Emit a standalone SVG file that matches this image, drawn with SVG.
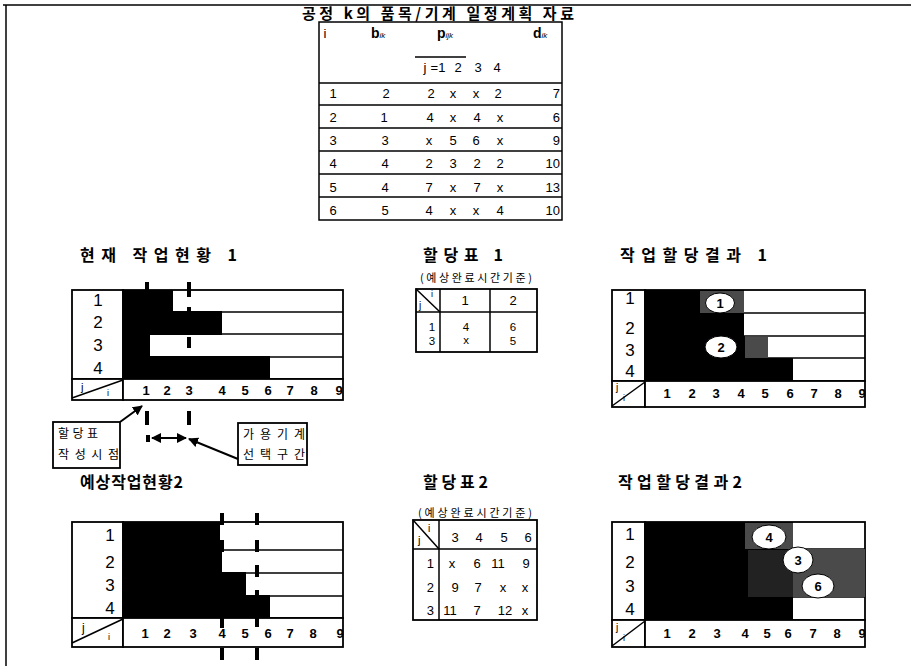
<svg xmlns="http://www.w3.org/2000/svg" width="911" height="666" viewBox="0 0 911 666">
<style>
.l{font-family:"Liberation Sans",Arial,sans-serif;fill:#000}
.k{font-family:"Noto Sans CJK KR","Liberation Sans",sans-serif;fill:#000}
.kb{font-family:"Noto Sans CJK KR","Liberation Sans",sans-serif;font-weight:bold;fill:#000}
.tv{font-size:13px;text-anchor:middle}
.ax{font-size:13px;font-weight:bold;text-anchor:middle}
.rl{font-size:17px;text-anchor:middle}
.ln{stroke:#000;stroke-width:1.5;fill:none}
.bx{stroke:#000;stroke-width:1.8;fill:#fff}
.dash{stroke:#000;stroke-width:4}
.blk{fill:#000}
.gry{fill:#4a4a4a}
.cir{fill:#fff;stroke:#000;stroke-width:1}
.cn{font-size:13px;font-weight:bold;text-anchor:middle}
.arr{stroke:#000;stroke-width:2;fill:none}
</style>
<defs>
<marker id="ah" viewBox="0 0 10 10" refX="9" refY="5" markerWidth="5" markerHeight="5" orient="auto-start-reverse" markerUnits="strokeWidth">
<path d="M0,0 L10,5 L0,10 z" fill="#000"/>
</marker>
</defs>
<rect width="911" height="666" fill="#fff"/>
<!-- frame -->
<g id="frame">
<line x1="3" y1="5" x2="911" y2="5" class="ln" stroke-width="2"/>
<line x1="6" y1="5" x2="6" y2="666" class="ln" stroke-width="2"/>
</g>

<!-- top title and table -->
<g id="title">
<text class="kb" x="302" y="19" font-size="15" textLength="272" lengthAdjust="spacing">공정 k의 품목/기계 일정계획 자료</text>
</g>
<g id="dataTable">
<rect x="319" y="22" width="243" height="198" class="ln"/>
<line x1="319" y1="83" x2="562" y2="83" class="ln" stroke-width="2"/>
<line x1="319" y1="105" x2="562" y2="105" class="ln"/>
<line x1="319" y1="128" x2="562" y2="128" class="ln"/>
<line x1="319" y1="151" x2="562" y2="151" class="ln"/>
<line x1="319" y1="174" x2="562" y2="174" class="ln"/>
<line x1="319" y1="197" x2="562" y2="197" class="ln"/>
<line x1="415" y1="57" x2="466" y2="57" class="ln"/>
<text class="l" x="325" y="38" font-size="13" text-anchor="middle">i</text>
<text class="l" x="371" y="38" font-size="14" font-weight="bold">b<tspan font-size="8" font-style="italic" font-weight="normal">ik</tspan></text>
<text class="l" x="437" y="38" font-size="14" font-weight="bold">p<tspan font-size="8" font-style="italic" font-weight="normal">ijk</tspan></text>
<text class="l" x="533" y="38" font-size="14" font-weight="bold">d<tspan font-size="8" font-style="italic" font-weight="normal">ik</tspan></text>
<g class="l tv">
<text x="425" y="72">j</text><text x="438" y="72">=1</text><text x="458" y="72">2</text><text x="478" y="72">3</text><text x="497" y="72">4</text>
<text x="333" y="98">1</text><text x="386" y="98">2</text><text x="431" y="98">2</text><text x="453" y="98">x</text><text x="476" y="98">x</text><text x="498" y="98">2</text>
<text x="333" y="122">2</text><text x="384" y="122">1</text><text x="430" y="122">4</text><text x="453" y="122">x</text><text x="477" y="122">4</text><text x="500" y="122">x</text>
<text x="333" y="145">3</text><text x="385" y="145">3</text><text x="429" y="145">x</text><text x="453" y="145">5</text><text x="476" y="145">6</text><text x="500" y="145">x</text>
<text x="333" y="168">4</text><text x="385" y="168">4</text><text x="429" y="168">2</text><text x="453" y="168">3</text><text x="477" y="168">2</text><text x="500" y="168">2</text>
<text x="333" y="192">5</text><text x="385" y="192">4</text><text x="429" y="192">7</text><text x="453" y="192">x</text><text x="477" y="192">7</text><text x="500" y="192">x</text>
<text x="333" y="215">6</text><text x="385" y="215">5</text><text x="429" y="215">4</text><text x="453" y="215">x</text><text x="476" y="215">x</text><text x="500" y="215">4</text>
</g>
<g class="l" font-size="13" text-anchor="end">
<text x="560" y="98">7</text><text x="560" y="122">6</text><text x="560" y="145">9</text><text x="560" y="168">10</text><text x="560" y="192">13</text><text x="560" y="215">10</text>
</g>
</g>

<!-- section titles -->
<g id="titles">
<text class="kb" x="80" y="261" font-size="16" textLength="157" lengthAdjust="spacing">현재 작업현황 1</text>
<text class="kb" x="423" y="261" font-size="16" textLength="80" lengthAdjust="spacing">할당표 1</text>
<text class="kb" x="620" y="261" font-size="16" textLength="147" lengthAdjust="spacing">작업할당결과 1</text>
<text class="kb" x="80" y="488" font-size="16" textLength="103" lengthAdjust="spacing">예상작업현황2</text>
<text class="kb" x="423" y="488" font-size="16" textLength="65" lengthAdjust="spacing">할당표2</text>
<text class="kb" x="618" y="488" font-size="16" textLength="124" lengthAdjust="spacing">작업할당결과2</text>
</g>

<!-- chart: 현재 작업현황 1 -->
<g id="chartCurrent1">
<rect x="72" y="290" width="51" height="89" class="bx"/>
<rect x="123" y="290" width="220" height="89" class="bx"/>
<line x1="123" y1="312" x2="343" y2="312" class="ln"/>
<line x1="123" y1="334" x2="343" y2="334" class="ln"/>
<line x1="123" y1="357" x2="343" y2="357" class="ln"/>
<rect x="123" y="290" width="50" height="22" class="blk"/>
<rect x="123" y="311" width="99" height="24" class="blk"/>
<rect x="123" y="333" width="27" height="25" class="blk"/>
<rect x="123" y="356" width="147" height="23" class="blk"/>
<rect x="72" y="379" width="51" height="21" class="bx"/>
<rect x="123" y="379" width="220" height="21" class="bx"/>
<line x1="72" y1="398" x2="123" y2="380" class="ln"/>
<text class="l" x="81" y="391" font-size="11">j</text>
<text class="l" x="107" y="396" font-size="9">i</text>
<g class="l rl"><text x="98" y="306">1</text><text x="98" y="328">2</text><text x="98" y="351">3</text><text x="98" y="374">4</text></g>
<g class="l ax"><text x="146" y="395">1</text><text x="167" y="395">2</text><text x="189" y="395">3</text><text x="222" y="395">4</text><text x="245" y="395">5</text><text x="268" y="395">6</text><text x="290" y="395">7</text><text x="314" y="395">8</text><text x="339" y="395">9</text></g>
<g class="dash">
<line x1="147" y1="282" x2="147" y2="291"/>
<line x1="189" y1="282" x2="189" y2="297"/>
<line x1="189" y1="307" x2="189" y2="318"/>
<line x1="189" y1="337" x2="189" y2="348"/>
<line x1="147" y1="411" x2="147" y2="425"/>
<line x1="189" y1="411" x2="189" y2="425"/>
<line x1="148" y1="435" x2="148" y2="442"/>
</g>
</g>

<!-- annotation boxes -->
<g id="noteAllocTime">
<rect x="53" y="422" width="67" height="46" class="bx" stroke-width="1.5"/>
<text class="k" x="58" y="438" font-size="12" textLength="40" lengthAdjust="spacing">할당표</text>
<text class="k" x="58" y="459" font-size="12" textLength="61" lengthAdjust="spacing">작성시점</text>
</g>
<g id="noteRange">
<rect x="238" y="423" width="69" height="42" class="bx" stroke-width="1.5"/>
<text class="k" x="243" y="439" font-size="12" textLength="62" lengthAdjust="spacing">가용기계</text>
<text class="k" x="243" y="459" font-size="12" textLength="62" lengthAdjust="spacing">선택구간</text>
</g>
<g id="connectors">
<line x1="120" y1="422" x2="142" y2="406" class="arr" marker-end="url(#ah)"/>
<line x1="238" y1="459" x2="189" y2="439" class="arr" marker-end="url(#ah)"/>
<line x1="152" y1="438" x2="186" y2="438" class="arr" marker-start="url(#ah)" marker-end="url(#ah)"/>
</g>

<!-- 할당표 1 -->
<g id="allocTable1">
<text class="k" x="420" y="282" font-size="11" textLength="112" lengthAdjust="spacing">(예상완료시간기준)</text>
<rect x="416" y="289" width="121" height="63" class="bx"/>
<line x1="416" y1="312" x2="537" y2="312" class="ln" stroke-width="2"/>
<line x1="440" y1="289" x2="440" y2="352" class="ln"/>
<line x1="490" y1="289" x2="490" y2="352" class="ln"/>
<line x1="416" y1="289" x2="440" y2="312" class="ln" stroke-width="2"/>
<text class="l" x="431" y="297" font-size="9">i</text>
<text class="l" x="419" y="309" font-size="10">j</text>
<g class="l tv"><text x="465" y="305">1</text><text x="513" y="305">2</text></g>
<g class="l" font-size="11.5" text-anchor="middle">
<text x="432" y="331">1</text><text x="432" y="345">3</text>
<text x="466" y="331">4</text><text x="466" y="344">x</text>
<text x="513" y="331">6</text><text x="513" y="345">5</text></g>
</g>

<!-- 작업할당결과 1 -->
<g id="chartResult1">
<rect x="612" y="290" width="33" height="91" class="bx"/>
<rect x="645" y="290" width="220" height="91" class="bx"/>
<line x1="645" y1="313" x2="865" y2="313" class="ln"/>
<line x1="645" y1="336" x2="865" y2="336" class="ln"/>
<line x1="645" y1="358" x2="865" y2="358" class="ln"/>
<rect x="645" y="290" width="99" height="47" class="blk"/>
<rect x="700" y="291" width="44" height="22" class="gry"/>
<rect x="645" y="336" width="100" height="23" class="blk"/>
<rect x="745" y="337" width="23" height="21" class="gry"/>
<rect x="645" y="358" width="148" height="23" class="blk"/>
<ellipse cx="720" cy="303" rx="14.5" ry="10" class="cir"/>
<text class="l cn" x="720" y="308">1</text>
<ellipse cx="721" cy="347" rx="16" ry="11" class="cir"/>
<text class="l cn" x="721" y="352">2</text>
<rect x="612" y="381" width="33" height="26" class="bx"/>
<rect x="645" y="381" width="220" height="26" class="bx"/>
<line x1="612" y1="406" x2="645" y2="382" class="ln" stroke-width="2"/>
<text class="l" x="616" y="391" font-size="10">j</text>
<text class="l" x="623" y="401" font-size="9">i</text>
<g class="l rl"><text x="630" y="304">1</text><text x="630" y="334">2</text><text x="630" y="356">3</text><text x="630" y="377">4</text></g>
<g class="l ax"><text x="667" y="398">1</text><text x="692" y="398">2</text><text x="716" y="398">3</text><text x="741" y="398">4</text><text x="765" y="398">5</text><text x="790" y="398">6</text><text x="814" y="398">7</text><text x="838" y="398">8</text><text x="862" y="398">9</text></g>
</g>

<!-- 예상작업현황2 -->
<g id="chartExpected2">
<rect x="72" y="522" width="51" height="96" class="bx"/>
<rect x="123" y="522" width="220" height="96" class="bx"/>
<line x1="123" y1="550" x2="343" y2="550" class="ln"/>
<line x1="123" y1="573" x2="343" y2="573" class="ln"/>
<line x1="123" y1="596" x2="343" y2="596" class="ln"/>
<rect x="123" y="522" width="97" height="29" class="blk"/>
<rect x="123" y="549" width="99" height="25" class="blk"/>
<rect x="123" y="572" width="123" height="25" class="blk"/>
<rect x="123" y="595" width="147" height="23" class="blk"/>
<rect x="72" y="618" width="51" height="29" class="bx"/>
<rect x="123" y="618" width="220" height="29" class="bx"/>
<line x1="72" y1="643" x2="123" y2="619" class="ln"/>
<text class="l" x="82" y="632" font-size="12">j</text>
<text class="l" x="108" y="640" font-size="9">i</text>
<g class="l rl"><text x="110" y="541">1</text><text x="110" y="568">2</text><text x="110" y="591">3</text><text x="110" y="614">4</text></g>
<g class="l ax"><text x="145" y="638">1</text><text x="167" y="638">2</text><text x="193" y="638">3</text><text x="222" y="638">4</text><text x="245" y="638">5</text><text x="268" y="638">6</text><text x="290" y="638">7</text><text x="313" y="638">8</text><text x="340" y="638">9</text></g>
<g class="dash">
<line x1="222" y1="513" x2="222" y2="525"/>
<line x1="222" y1="540" x2="222" y2="552"/>
<line x1="222" y1="618" x2="222" y2="628"/>
<line x1="222" y1="648" x2="222" y2="660"/>
<line x1="257" y1="513" x2="257" y2="525"/>
<line x1="257" y1="540" x2="257" y2="552"/>
<line x1="257" y1="565" x2="257" y2="577"/>
<line x1="257" y1="590" x2="257" y2="602"/>
<line x1="257" y1="618" x2="257" y2="627"/>
<line x1="257" y1="648" x2="257" y2="660"/>
</g>
</g>

<!-- 할당표2 -->
<g id="allocTable2">
<text class="k" x="418" y="517" font-size="11" textLength="114" lengthAdjust="spacing">(예상완료시간기준)</text>
<rect x="413" y="520" width="124" height="100" class="bx"/>
<line x1="413" y1="549" x2="537" y2="549" class="ln" stroke-width="2"/>
<line x1="439" y1="520" x2="439" y2="620" class="ln"/>
<line x1="413" y1="520" x2="439" y2="549" class="ln" stroke-width="2"/>
<text class="l" x="428" y="532" font-size="10">i</text>
<text class="l" x="418" y="544" font-size="11">j</text>
<g class="l tv"><text x="455" y="542">3</text><text x="479" y="542">4</text><text x="504" y="542">5</text><text x="528" y="542">6</text>
<text x="452" y="568">x</text><text x="477" y="568">6</text><text x="498" y="568">11</text><text x="526" y="568">9</text>
<text x="455" y="592">9</text><text x="478" y="592">7</text><text x="503" y="592">x</text><text x="525" y="592">x</text>
<text x="450" y="615">11</text><text x="477" y="615">7</text><text x="505" y="615">12</text><text x="525" y="615">x</text></g>
<g class="l" font-size="13" text-anchor="end"><text x="434" y="568">1</text><text x="434" y="592">2</text><text x="434" y="615">3</text></g>
</g>

<!-- 작업할당결과2 -->
<g id="chartResult2">
<rect x="612" y="522" width="33" height="98" class="bx"/>
<rect x="645" y="522" width="220" height="98" class="bx"/>
<line x1="645" y1="549" x2="865" y2="549" class="ln"/>
<line x1="645" y1="573" x2="865" y2="573" class="ln"/>
<line x1="645" y1="597" x2="865" y2="597" class="ln"/>
<rect x="645" y="522" width="148" height="98" class="blk"/>
<rect x="745" y="523" width="48" height="26" class="gry"/>
<rect x="748" y="550" width="45" height="47" fill="#222"/>
<rect x="793" y="549" width="72" height="48" class="gry"/>
<ellipse cx="769" cy="537" rx="17" ry="12" class="cir"/>
<text class="l cn" x="769" y="542">4</text>
<ellipse cx="798" cy="560" rx="15" ry="13" class="cir"/>
<text class="l cn" x="798" y="565">3</text>
<ellipse cx="818" cy="586" rx="16" ry="12" class="cir"/>
<text class="l cn" x="818" y="591">6</text>
<rect x="612" y="620" width="33" height="27" class="bx"/>
<rect x="645" y="620" width="220" height="27" class="bx"/>
<line x1="612" y1="646" x2="645" y2="621" class="ln" stroke-width="2"/>
<text class="l" x="616" y="631" font-size="10">j</text>
<text class="l" x="623" y="641" font-size="9">i</text>
<g class="l rl"><text x="630" y="540">1</text><text x="630" y="568">2</text><text x="630" y="592">3</text><text x="630" y="615">4</text></g>
<g class="l ax"><text x="667" y="638">1</text><text x="692" y="638">2</text><text x="717" y="638">3</text><text x="745" y="638">4</text><text x="767" y="638">5</text><text x="788" y="638">6</text><text x="813" y="638">7</text><text x="837" y="638">8</text><text x="862" y="638">9</text></g>
</g>
</svg>
